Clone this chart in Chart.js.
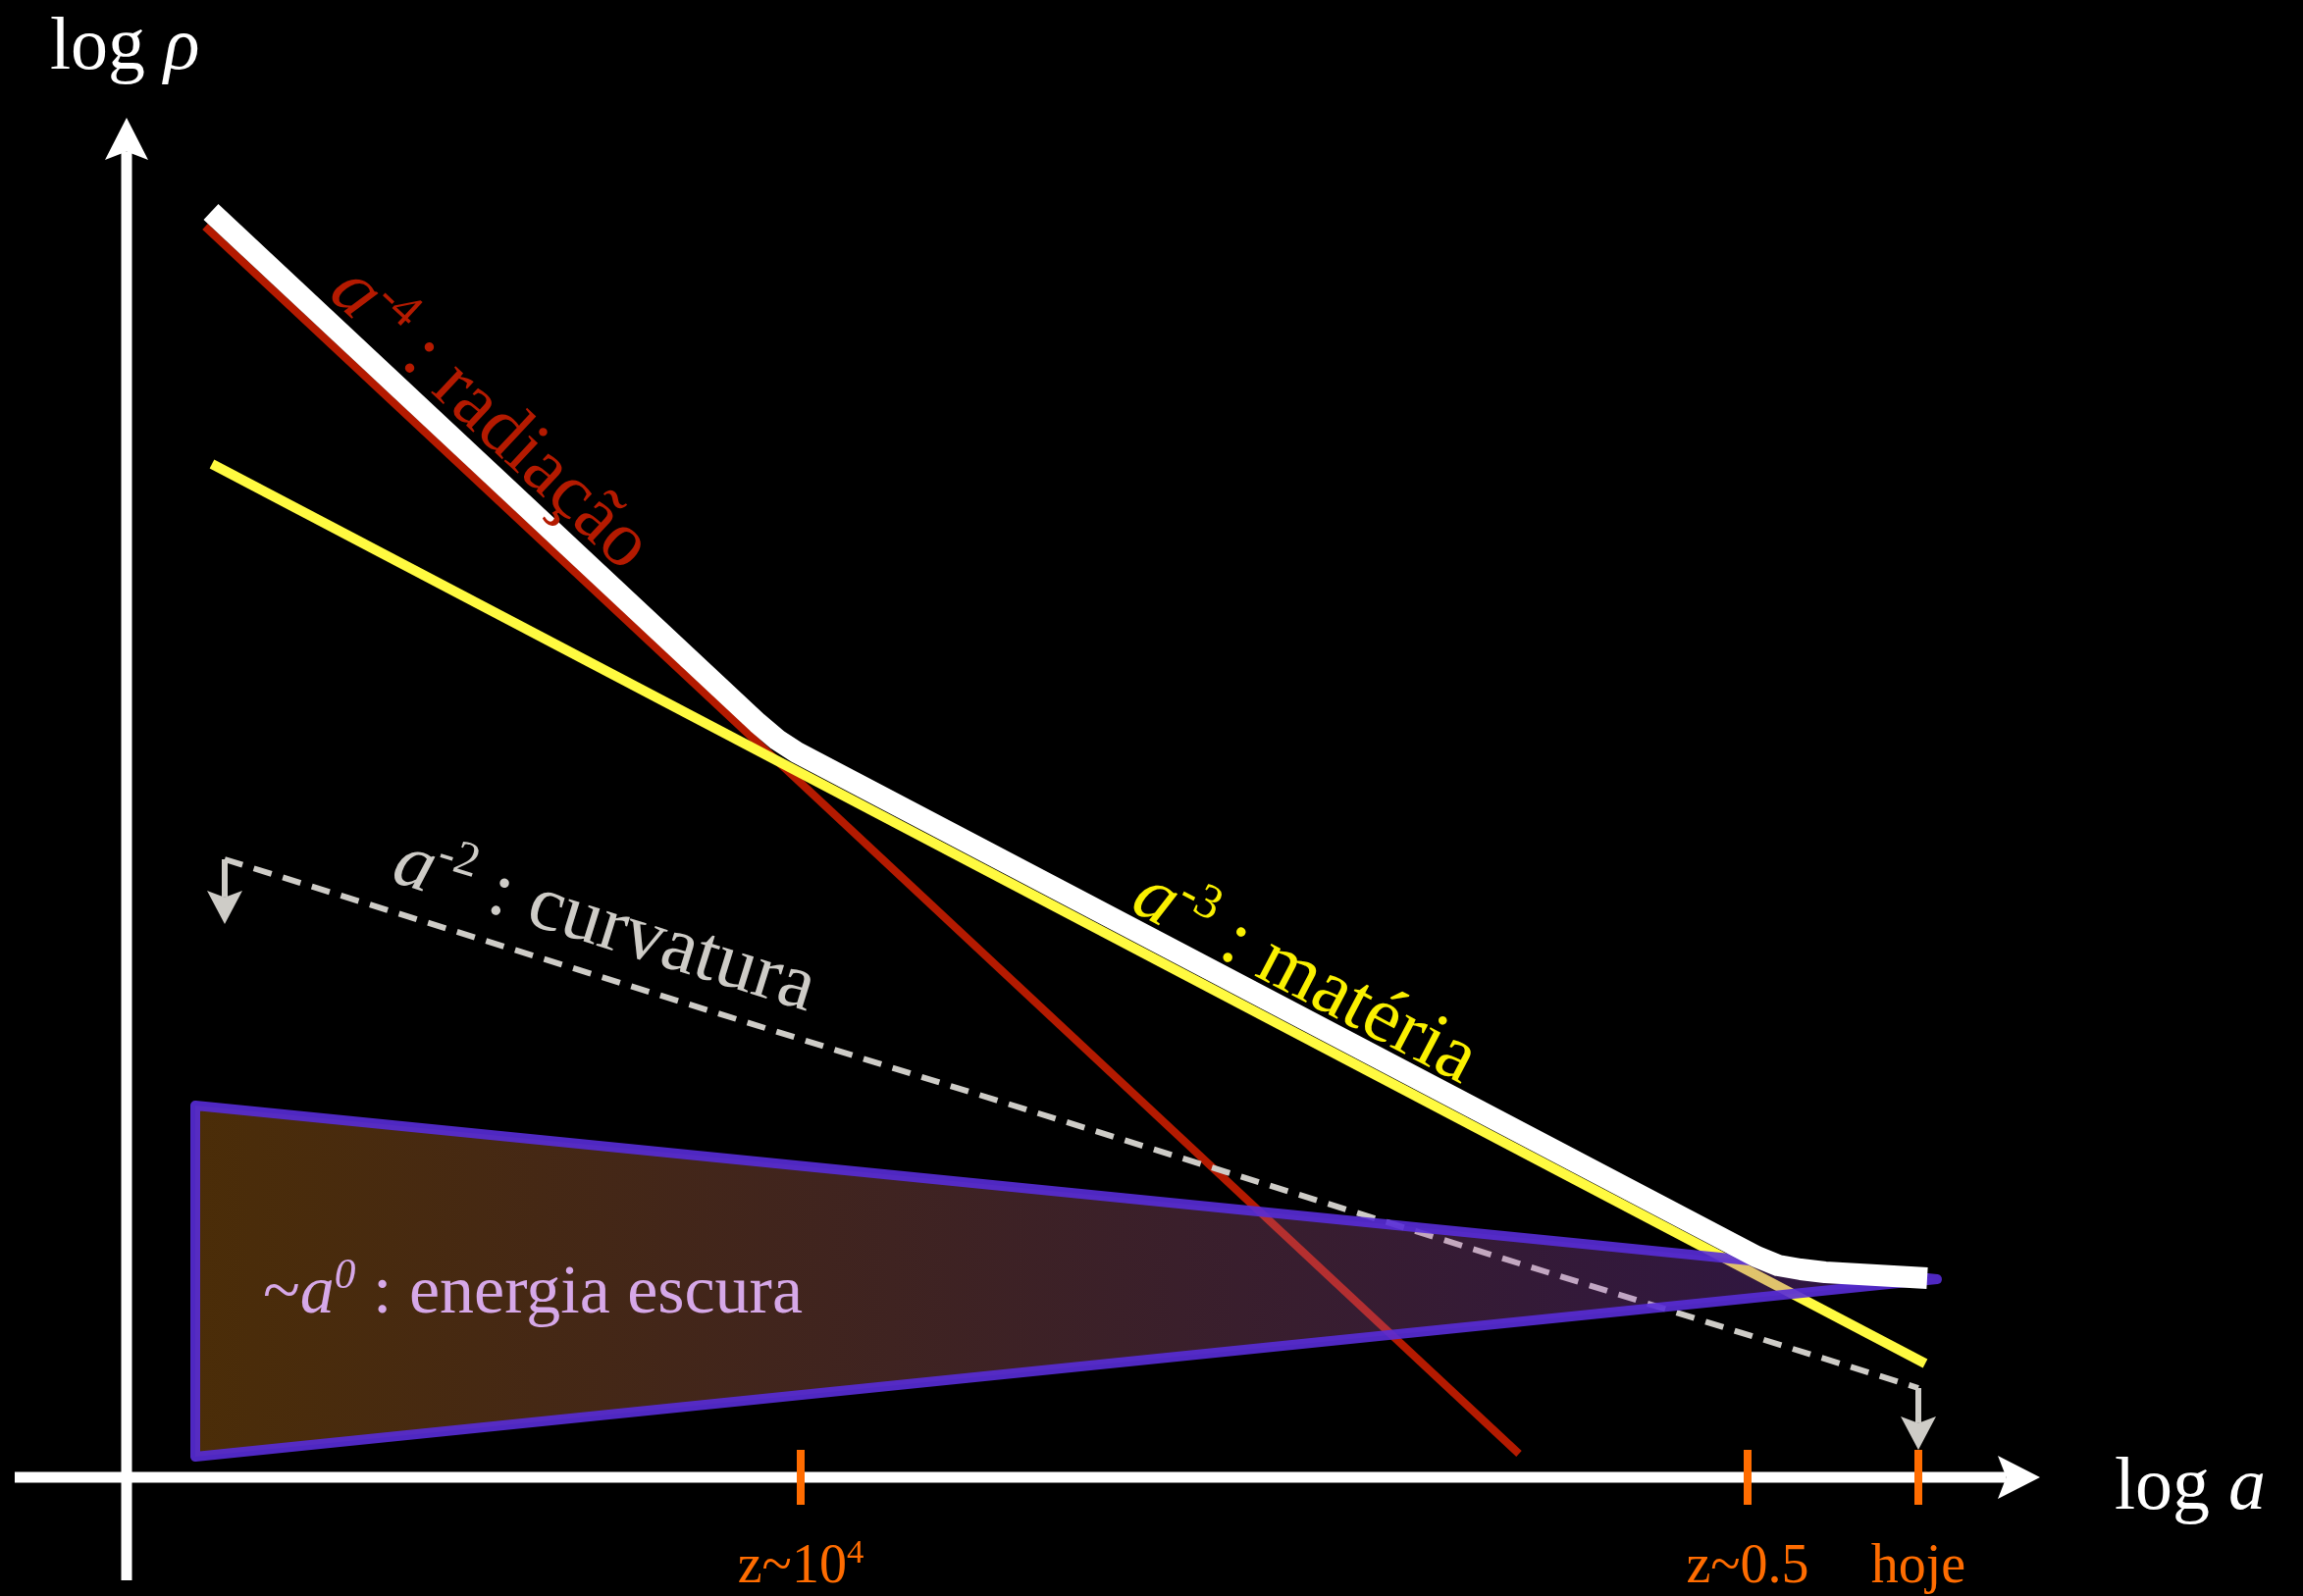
<!DOCTYPE html>
<html>
<head>
<meta charset="utf-8">
<title>Densidade de energia × fator de escala</title>
<script src="https://cdn.jsdelivr.net/npm/chart.js@4.4.0/dist/chart.umd.min.js"></script>
<style>
  html, body { margin: 0; padding: 0; background: #000; overflow: hidden; }
  canvas { display: block; }
</style>
</head>
<body>
<canvas id="grafico" width="2347" height="1627"></canvas>
<script>
// Diagrama esquemático: log ρ em função de log a (unidades arbitrárias).
// Origem dos eixos em (0, 0).

// a^-4 : radiação
const radiacaoX = [80, 1419];
const radiacaoY = [1275, 24];

// a^-3 : matéria
const materiaX = [87, 1833];
const materiaY = [1033, 116];

// a^-2 : curvatura (tracejada, com setas nas pontas)
const curvaturaX = [100, 1826];
const curvaturaY = [630, 91];
const setaCurvaturaX = [100, 1826];
const setaCurvaturaY = [564, 28];

// densidade total (soma dominada por cada componente)
const totalX = [86, 643, 663, 683, 1661, 1683, 1706, 1731, 1835];
const totalY = [1290, 769, 752, 739, 225, 216, 212, 209, 203];

// ~a^0 : energia escura (faixa em cunha)
const escuraX = [70, 1845, 70, 70];
const escuraY = [379, 202, 21, 379];

// marcos no eixo de log a
const marcosX = [687, 1652, 1826];
const marcosRotulo = ['z~10', 'z~0.5', 'hoje'];
const marcosExpoente = ['4', '', ''];

// extensão dos eixos
const eixoHorizontal = [-114, 1950];
const eixoVertical = [-105, 1386];

const pts = (xs, ys) => xs.map((x, i) => ({ x, y: ys[i] }));

const FONTE = '"Liberation Serif", "Times New Roman", "DejaVu Serif", serif';
const LARANJA = 'rgb(255,108,0)';
const CINZA = 'rgb(206,204,199)';

function escreve(ctx, partes, tam, cor, x, y, ang, alinhamento) {
  ctx.save();
  ctx.translate(x, y);
  ctx.rotate(ang || 0);
  ctx.fillStyle = cor;
  ctx.textBaseline = 'alphabetic';
  ctx.textAlign = 'left';
  const fonte = p => `${p.it ? 'italic ' : ''}${p.sup ? tam * 0.62 : tam}px ${FONTE}`;
  let total = 0;
  for (const p of partes) { ctx.font = fonte(p); total += ctx.measureText(p.t).width; }
  let cx = alinhamento === 'center' ? -total / 2 : 0;
  for (const p of partes) {
    ctx.font = fonte(p);
    ctx.fillText(p.t, cx, p.sup ? -tam * 0.36 : 0);
    cx += ctx.measureText(p.t).width;
  }
  ctx.restore();
}

function ponta(ctx, x, y, ang, comp, larg, cor) {
  ctx.save();
  ctx.translate(x, y);
  ctx.rotate(ang);
  ctx.beginPath();
  ctx.moveTo(0, 0);
  ctx.lineTo(-comp, -larg / 2);
  ctx.lineTo(-comp * 0.8, 0);
  ctx.lineTo(-comp, larg / 2);
  ctx.closePath();
  ctx.fillStyle = cor;
  ctx.fill();
  ctx.restore();
}

function seta(ctx, x1, y1, x2, y2, largura, comp, larg, cor) {
  const ang = Math.atan2(y2 - y1, x2 - x1);
  const fimX = x2 - Math.cos(ang) * comp * 0.8;
  const fimY = y2 - Math.sin(ang) * comp * 0.8;
  ctx.save();
  ctx.strokeStyle = cor;
  ctx.lineWidth = largura;
  ctx.lineCap = 'butt';
  ctx.beginPath();
  ctx.moveTo(x1, y1);
  ctx.lineTo(fimX, fimY);
  ctx.stroke();
  ctx.restore();
  ponta(ctx, x2, y2, ang, comp, larg, cor);
}

const anguloDe = (ch, xs, ys) => {
  const sx = ch.scales.x, sy = ch.scales.y;
  return Math.atan2(sy.getPixelForValue(ys[1]) - sy.getPixelForValue(ys[0]),
                    sx.getPixelForValue(xs[1]) - sx.getPixelForValue(xs[0]));
};

const desenho = {
  id: 'desenho',
  beforeDatasetsDraw(ch) {
    const ctx = ch.ctx, sx = ch.scales.x, sy = ch.scales.y;
    const x0 = sx.getPixelForValue(0), y0 = sy.getPixelForValue(0);
    // eixo log ρ
    seta(ctx, x0, sy.getPixelForValue(eixoVertical[0]), x0, sy.getPixelForValue(eixoVertical[1]),
         11, 43, 44, '#fff');
    // eixo log a
    seta(ctx, sx.getPixelForValue(eixoHorizontal[0]), y0, sx.getPixelForValue(eixoHorizontal[1]), y0,
         11, 43, 44, '#fff');
  },
  afterDatasetsDraw(ch) {
    const ctx = ch.ctx, sx = ch.scales.x, sy = ch.scales.y;
    const X = v => sx.getPixelForValue(v), Y = v => sy.getPixelForValue(v);

    // setas da curvatura
    for (let i = 0; i < 2; i++) {
      seta(ctx, X(curvaturaX[i]), Y(curvaturaY[i]), X(setaCurvaturaX[i]), Y(setaCurvaturaY[i]),
           6, 34, 36, CINZA);
    }

    // rótulos dos eixos
    escreve(ctx, [{ t: 'log ' }, { t: 'ρ', it: true }], 76, '#fff', X(-78), Y(1436), 0);
    escreve(ctx, [{ t: 'log ' }, { t: 'a', it: true }], 76, '#fff', X(2026), Y(-32), 0);

    // rótulos das componentes
    escreve(ctx, [{ t: 'a', it: true }, { t: '-4', sup: true }, { t: ' : radiação' }],
            80, 'rgb(180,26,0)', X(204), Y(1205), anguloDe(ch, radiacaoX, radiacaoY));
    escreve(ctx, [{ t: 'a', it: true }, { t: '-3', sup: true }, { t: ' : matéria' }],
            80, 'rgb(250,240,0)', X(1021), Y(579), anguloDe(ch, materiaX, materiaY));
    escreve(ctx, [{ t: 'a', it: true }, { t: '-2', sup: true }, { t: ' : curvatura' }],
            80, CINZA, X(268), Y(608), anguloDe(ch, curvaturaX, curvaturaY));
    escreve(ctx, [{ t: '~' }, { t: 'a', it: true }, { t: '0', sup: true, it: true }, { t: ' : energia escura' }],
            70, 'rgb(214,168,232)', X(139), Y(168), 0);

    // rótulos dos marcos
    marcosX.forEach((mx, i) => {
      const partes = [{ t: marcosRotulo[i] }];
      if (marcosExpoente[i]) partes.push({ t: marcosExpoente[i], sup: true });
      escreve(ctx, partes, 56, LARANJA, X(mx), Y(-107), 0, 'center');
    });
  }
};

new Chart(document.getElementById('grafico'), {
  type: 'scatter',
  data: {
    datasets: [
      {
        label: 'total',
        data: pts(totalX, totalY),
        showLine: true, pointRadius: 0, fill: false,
        borderColor: '#ffffff', borderWidth: 22,
        borderJoinStyle: 'round', borderCapStyle: 'butt',
        order: 0
      },
      {
        label: 'energia escura',
        data: pts(escuraX, escuraY),
        showLine: true, pointRadius: 0,
        borderColor: 'rgba(88,44,215,0.9)', borderWidth: 10,
        borderJoinStyle: 'round', borderCapStyle: 'round',
        fill: 'shape',
        backgroundColor(c) {
          const ch = c.chart;
          if (!ch.chartArea) return 'rgba(0,0,0,0)';
          const sx = ch.scales.x;
          const g = ch.ctx.createLinearGradient(sx.getPixelForValue(escuraX[0]), 0, sx.getPixelForValue(escuraX[1]), 0);
          g.addColorStop(0, 'rgba(242,145,26,0.31)');
          g.addColorStop(1, 'rgba(145,65,225,0.31)');
          return g;
        },
        order: 1
      },
      {
        label: 'curvatura',
        data: pts(curvaturaX, curvaturaY),
        showLine: true, pointRadius: 0, fill: false,
        borderColor: CINZA, borderWidth: 6, borderDash: [19, 12],
        borderCapStyle: 'butt',
        order: 2
      },
      {
        label: 'matéria',
        data: pts(materiaX, materiaY),
        showLine: true, pointRadius: 0, fill: false,
        borderColor: 'rgb(255,250,64)', borderWidth: 10,
        order: 3
      },
      {
        label: 'radiação',
        data: pts(radiacaoX, radiacaoY),
        showLine: true, pointRadius: 0, fill: false,
        borderColor: 'rgb(180,26,0)', borderWidth: 8,
        order: 4
      },
      {
        label: 'marcos',
        data: pts(marcosX, marcosX.map(() => 0)),
        showLine: false,
        pointStyle: 'line', rotation: 90, pointRadius: 28,
        pointBorderWidth: 8, pointBorderColor: LARANJA, pointBackgroundColor: LARANJA,
        order: -1
      }
    ]
  },
  options: {
    responsive: false,
    animation: false,
    devicePixelRatio: 1,
    events: [],
    layout: { padding: 0, autoPadding: false },
    scales: {
      x: { type: 'linear', min: -129, max: 2218, display: false },
      y: { type: 'linear', min: -121, max: 1506, display: false }
    },
    plugins: {
      legend: { display: false },
      tooltip: { enabled: false }
    }
  },
  plugins: [desenho]
});
</script>
</body>
</html>
